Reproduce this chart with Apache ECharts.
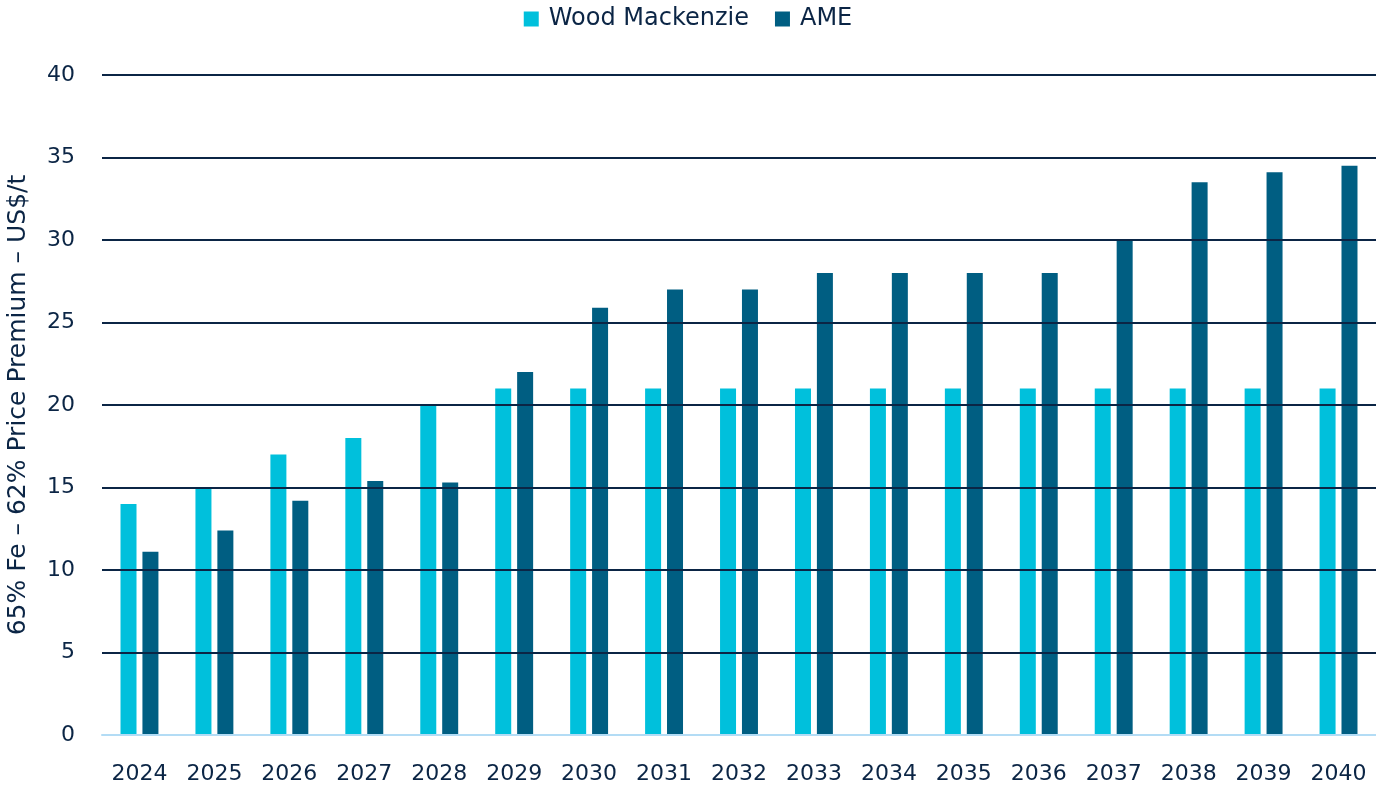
<!DOCTYPE html>
<html>
<head>
    <meta charset="UTF-8">
    <title>Premium</title>
    <script src="https://cdn.jsdelivr.net/npm/echarts@6/dist/echarts.min.js"></script>
    <style>
        html, body { margin: 0; padding: 0; background: #fff; }
        #main { width: 1376px; height: 789px; }
    </style>
</head>
<body>
    <div id="main"></div>
    <script>
        var years = ['2024', '2025', '2026', '2027', '2028', '2029', '2030', '2031', '2032',
            '2033', '2034', '2035', '2036', '2037', '2038', '2039', '2040'];
        var woodMackenzie = [14, 15, 17, 18, 20, 21, 21, 21, 21, 21, 21, 21, 21, 21, 21, 21, 21];
        var ame = [11.1, 12.4, 14.2, 15.4, 15.3, 22, 25.9, 27, 27, 28, 28, 28, 28, 30, 33.5, 34.1, 34.5];

        var textColor = '#0b2545';
        var font = 'DejaVu Sans';

        var chart = echarts.init(document.getElementById('main'));
        var option = {
            animation: false,
            textStyle: { fontFamily: font },
            legend: {
                top: 2,
                left: 'center',
                itemWidth: 15,
                itemHeight: 15,
                itemGap: 26,
                icon: 'rect',
                textStyle: { color: textColor, fontSize: 24, fontFamily: font, padding: [0, 0, 0, 5] },
                data: ['Wood Mackenzie', 'AME']
            },
            grid: { left: 102, right: 0, top: 75, bottom: 54, outerBoundsMode: 'none', containLabel: false },
            xAxis: {
                type: 'category',
                data: years,
                z: 4,
                axisTick: { show: false },
                axisLine: { lineStyle: { color: '#b3dcf5', width: 2 } },
                axisLabel: { color: textColor, fontSize: 22, margin: 28 }
            },
            yAxis: {
                type: 'value',
                min: 0,
                max: 40,
                interval: 5,
                z: 3,
                name: '65% Fe – 62% Price Premium – US$/t',
                nameLocation: 'middle',
                nameGap: 71,
                nameTextStyle: { color: textColor, fontSize: 25, fontFamily: font },
                axisLabel: { color: textColor, fontSize: 22, margin: 27 },
                splitLine: { lineStyle: { color: '#0b2545', width: 2 } }
            },
            series: [
                {
                    name: 'Wood Mackenzie',
                    type: 'bar',
                    data: woodMackenzie,
                    barWidth: 16,
                    barGap: '37%',
                    itemStyle: { color: '#00c0dc' }
                },
                {
                    name: 'AME',
                    type: 'bar',
                    data: ame,
                    barWidth: 16,
                    itemStyle: { color: '#005e82' }
                }
            ]
        };
        chart.setOption(option);
    </script>
</body>
</html>
